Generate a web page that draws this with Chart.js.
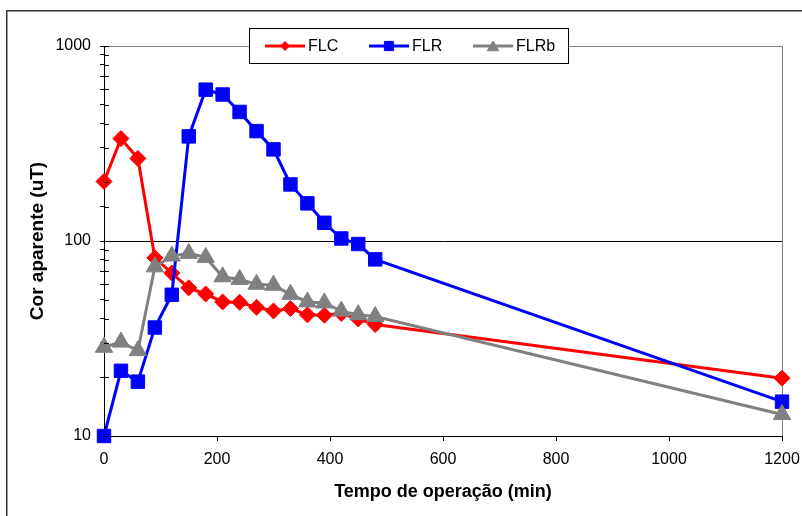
<!DOCTYPE html>
<html>
<head>
<meta charset="utf-8">
<script src="https://cdn.jsdelivr.net/npm/chart.js@4/dist/chart.umd.min.js"></script>
<style>
  html, body { margin: 0; padding: 0; background: #fff; }
  canvas { display: block; }
</style>
</head>
<body>
<canvas id="c" width="802" height="516"></canvas>
<script>
// Operating time (min)
const times = [0, 30, 60, 90, 120, 150, 180, 210, 240, 270, 300, 330, 360, 390, 420, 450, 480, 1200];
// Apparent colour (uT) per filter
const flc  = [202, 335, 265, 82, 68.5, 57.5, 53.5, 48.7, 48.5, 45.7, 43.8, 45, 41.8, 41.6, 42.5, 39.8, 37.3, 19.8];
const flr  = [10, 21.6, 19, 36, 53, 344, 597, 564, 459, 366, 295, 195, 156, 124, 103, 96.5, 80.5, 15];
const flrb = [28.5, 30.3, 27.4, 73.7, 83.7, 86.4, 82.4, 65.5, 63.5, 60, 59.3, 53.3, 48.7, 48.1, 43.7, 41.9, 41, 12.9];

const seriesNames = ['FLC', 'FLR', 'FLRb'];
const seriesColors = ['#ff0000', '#0000ff', '#808080'];
const yLabelValues = [10, 100, 1000];
const xTickStep = 200;

const FONT = "'Liberation Sans', Arial, sans-serif";

function points(ys) {
  return times.map((t, i) => ({ x: t, y: ys[i] }));
}

// Outer frame, inner half of the cross ticks on the value axis, and the boxed legend
const decorations = {
  id: 'decorations',
  beforeDraw(chart) {
    const ctx = chart.ctx;
    ctx.save();
    ctx.fillStyle = '#fff';
    ctx.fillRect(0, 0, chart.width, chart.height);
    ctx.strokeStyle = '#333';
    ctx.lineWidth = 1.5;
    ctx.strokeRect(6.75, 10.75, chart.width + 20, chart.height + 20);
    ctx.restore();
  },
  afterDraw(chart) {
    const ctx = chart.ctx;
    const y = chart.scales.y;
    const area = chart.chartArea;
    ctx.save();
    ctx.strokeStyle = '#000';
    ctx.lineWidth = 1;
    y.ticks.forEach(t => {
      const py = Math.round(y.getPixelForValue(t.value)) + 0.5;
      ctx.beginPath();
      ctx.moveTo(area.left, py);
      ctx.lineTo(area.left + 5, py);
      ctx.stroke();
    });

    // legend box
    const bx = 249.5, by = 28.5, bw = 319, bh = 35;
    ctx.fillStyle = '#fff';
    ctx.fillRect(bx, by, bw, bh);
    ctx.strokeStyle = '#000';
    ctx.strokeRect(bx, by, bw, bh);
    const cy = by + bh / 2;
    const entryX = [265, 369, 473];
    const legendMarks = [
      { pointStyle: 'rectRot', radius: 4.5 },
      { pointStyle: 'rect', radius: 6.5 },
      { pointStyle: 'triangle', radius: 6.5 }
    ];
    chart.data.datasets.forEach((ds, i) => {
      const x0 = entryX[i];
      ctx.strokeStyle = ds.borderColor;
      ctx.lineWidth = 3;
      ctx.beginPath();
      ctx.moveTo(x0, cy);
      ctx.lineTo(x0 + 40, cy);
      ctx.stroke();
      ctx.fillStyle = ds.borderColor;
      ctx.lineWidth = 1;
      Chart.helpers.drawPoint(ctx, {
        pointStyle: legendMarks[i].pointStyle,
        radius: legendMarks[i].radius,
        rotation: 0,
        borderWidth: 1
      }, x0 + 20, cy + (legendMarks[i].pointStyle === 'triangle' ? 1.5 : 0));
      ctx.fillStyle = '#000';
      ctx.font = '16px ' + FONT;
      ctx.textBaseline = 'middle';
      ctx.textAlign = 'left';
      ctx.fillText(ds.label, x0 + 43, cy + 1);
    });
    ctx.restore();
  }
};

new Chart(document.getElementById('c'), {
  type: 'line',
  data: {
    datasets: [
      { label: seriesNames[0], data: points(flc), borderColor: seriesColors[0], backgroundColor: seriesColors[0],
        borderWidth: 3, pointStyle: 'rectRot', pointRadius: 8, pointBorderWidth: 1, order: 3, clip: false },
      { label: seriesNames[1], data: points(flr), borderColor: seriesColors[1], backgroundColor: seriesColors[1],
        borderWidth: 3, pointStyle: 'rect', pointRadius: 9.5, pointBorderWidth: 1, order: 2, clip: false },
      { label: seriesNames[2], data: points(flrb), borderColor: seriesColors[2], backgroundColor: seriesColors[2],
        borderWidth: 3, pointStyle: 'triangle', pointRadius: 10, pointBorderWidth: 1, order: 1, clip: false }
    ]
  },
  options: {
    responsive: false,
    animation: false,
    events: [],
    layout: { padding: { left: 0, right: 20, top: 46, bottom: 0 } },
    plugins: {
      legend: { display: false },
      tooltip: { enabled: false },
      title: { display: false }
    },
    scales: {
      x: {
        type: 'linear',
        min: 0,
        max: 1200,
        ticks: {
          stepSize: xTickStep,
          color: '#000',
          font: { family: FONT, size: 16 },
          padding: 9,
          maxRotation: 0,
          callback: v => String(v)
        },
        grid: {
          color: ctx => (ctx.tick && ctx.tick.value === 1200 ? '#808080' : 'rgba(0,0,0,0)'),
          tickColor: '#000',
          tickLength: 5,
          lineWidth: 1
        },
        border: { color: '#000', width: 1 },
        title: {
          display: true,
          text: 'Tempo de operação (min)',
          color: '#000',
          font: { family: FONT, size: 18, weight: 'bold' },
          padding: { top: 0, bottom: 13 }
        },
        afterFit(scale) {
          scale.height = 80;
          scale.paddingLeft = 0;
          scale.paddingRight = 0;
        }
      },
      y: {
        type: 'logarithmic',
        min: 10,
        max: 1000,
        ticks: {
          autoSkip: false,
          color: '#000',
          font: { family: FONT, size: 16 },
          padding: 9,
          callback: v => (yLabelValues.includes(v) ? String(v) : '')
        },
        grid: {
          color: ctx => {
            if (!ctx.tick) return 'rgba(0,0,0,0)';
            if (ctx.tick.value === 100) return '#000';
            if (ctx.tick.value === 1000) return '#808080';
            return 'rgba(0,0,0,0)';
          },
          tickColor: '#000',
          tickLength: 4,
          lineWidth: 1
        },
        border: { color: '#000', width: 1 },
        title: {
          display: true,
          text: 'Cor aparente (uT)',
          color: '#000',
          font: { family: FONT, size: 19, weight: 'bold' },
          padding: { top: 26.5, bottom: 0 }
        },
        afterFit(scale) {
          scale.width = 104;
          scale.paddingTop = 0;
          scale.paddingBottom = 0;
        }
      }
    }
  },
  plugins: [decorations]
});
</script>
</body>
</html>
